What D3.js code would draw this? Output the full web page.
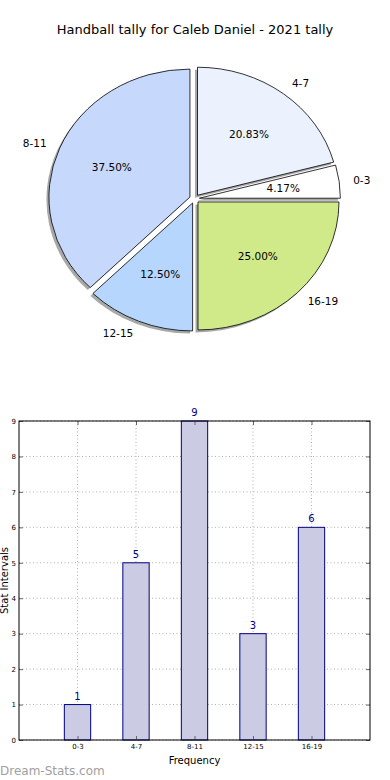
<!DOCTYPE html>
<html><head><meta charset="utf-8">
<script src="https://cdn.jsdelivr.net/npm/d3@7"></script>
<style>body{margin:0;background:#fff;}svg{display:block;font-family:"DejaVu Sans",sans-serif;}</style>
</head><body>
<svg id="c" width="390" height="780"></svg>
<script>
const title = "Handball tally for Caleb Daniel - 2021 tally";
const categories = ["0-3","4-7","8-11","12-15","16-19"];
const values = [1,5,9,3,6];
const pieColors = ["#ffffff","#ebf2fe","#c6d9fd","#b6d6fe","#d0ea8a"];
const yTicks = [0,1,2,3,4,5,6,7,8,9];
const xLabel = "Frequency";
const yLabel = "Stat Intervals";
const watermark = "Dream-Stats.com";

const svg = d3.select("#c");
svg.append("text").attr("x",195).attr("y",34).attr("text-anchor","middle")
  .attr("font-size",13).attr("fill","#000").text(title);

// ---- Pie ----
const cx = 194.5, cy = 198.8, rx = 141, ry = 128, explode = 0.035;
const sy = ry/rx;
const total = d3.sum(values);
const pie = d3.pie().sort(null).startAngle(Math.PI/2).endAngle(Math.PI/2 - 2*Math.PI);
const arcs = pie(values);
const arc = d3.arc().innerRadius(0).outerRadius(rx);
const pg = svg.append("g").attr("transform",`translate(${cx},${cy})`);
function off(d, k){ const m=(d.startAngle+d.endAngle)/2; return [Math.sin(m)*k*rx, -Math.cos(m)*k*ry]; }
// shadows
arcs.forEach(d=>{
  const [ox,oy]=off(d,explode);
  pg.append("path").attr("d",arc(d))
    .attr("transform",`translate(${ox-2.5},${oy+2.5}) scale(1,${sy})`)
    .attr("fill","#6e6e6e").attr("opacity",0.6);
});
arcs.forEach((d,i)=>{
  const [ox,oy]=off(d,explode);
  pg.append("path").attr("d",arc(d))
    .attr("transform",`translate(${ox},${oy}) scale(1,${sy})`)
    .attr("fill",pieColors[i]).attr("stroke","#000").attr("stroke-width",0.8)
    .attr("vector-effect","non-scaling-stroke").attr("stroke-linejoin","miter");
});
arcs.forEach((d,i)=>{
  const [lx,ly]=off(d,1.1+explode);
  pg.append("text").attr("x",lx).attr("y",ly).attr("dy","0.35em")
    .attr("text-anchor", lx>0?"start":"end").attr("font-size",10.5).text(categories[i]);
  const [px,py]=off(d,0.6+explode);
  pg.append("text").attr("x",px).attr("y",py).attr("dy","0.35em")
    .attr("text-anchor","middle").attr("font-size",10.5)
    .text((values[i]/total*100).toFixed(2)+"%");
});

// ---- Bar chart ----
const L=19, R=370, T=421, B=740;
const x = d3.scaleLinear().domain([0,categories.length+1]).range([L,R]);
const y = d3.scaleLinear().domain([0,9]).range([B,T]);
const bg = svg.append("g");
// grid
bg.selectAll(".gy").data(yTicks).join("line")
  .attr("x1",L).attr("x2",R).attr("y1",d=>y(d)).attr("y2",d=>y(d))
  .attr("stroke","#b0b0b0").attr("stroke-width",1).attr("stroke-dasharray","1,2.5");
bg.selectAll(".gx").data(categories).join("line")
  .attr("x1",(d,i)=>x(i+1)).attr("x2",(d,i)=>x(i+1)).attr("y1",T).attr("y2",B)
  .attr("stroke","#b0b0b0").attr("stroke-width",1).attr("stroke-dasharray","1,2.5");
// bars
const bw = x(0.45)-x(0);
bg.selectAll(".bar").data(values).join("rect")
  .attr("x",(d,i)=>x(i+1)-bw/2).attr("width",bw)
  .attr("y",d=>y(d)).attr("height",d=>B-y(d))
  .attr("fill","#cbcbe3").attr("stroke","#000080").attr("stroke-width",1);
bg.selectAll(".vl").data(values).join("text")
  .attr("x",(d,i)=>x(i+1)).attr("y",d=>y(d)-5).attr("text-anchor","middle")
  .attr("font-size",10).attr("fill","#000080").text(d=>d);
// axes with inward ticks
const yAxisL = d3.axisLeft(y).tickValues(yTicks).tickSizeInner(-4).tickSizeOuter(0).tickPadding(3);
const yAx = bg.append("g").attr("transform",`translate(${L},0)`).call(yAxisL);
yAx.select(".domain").remove();
yAx.selectAll("text").attr("font-size",7).attr("font-family","DejaVu Sans").attr("fill","#000");
yAx.selectAll("line").attr("stroke","#666");
const yAxisR = d3.axisRight(y).tickValues(yTicks).tickSizeInner(-4).tickSizeOuter(0).tickFormat("");
const yAr = bg.append("g").attr("transform",`translate(${R},0)`).call(yAxisR);
yAr.select(".domain").remove(); yAr.selectAll("line").attr("stroke","#666");
const xAxisB = d3.axisBottom(x).tickValues(categories.map((c,i)=>i+1))
  .tickFormat((d,i)=>categories[i]).tickSizeInner(-4).tickSizeOuter(0).tickPadding(4);
const xAb = bg.append("g").attr("transform",`translate(0,${B})`).call(xAxisB);
xAb.select(".domain").remove();
xAb.selectAll("text").attr("font-size",7).attr("font-family","DejaVu Sans").attr("fill","#000");
xAb.selectAll("line").attr("stroke","#666");
const xAxisT = d3.axisTop(x).tickValues(categories.map((c,i)=>i+1)).tickSizeInner(-4).tickSizeOuter(0).tickFormat("");
const xAt = bg.append("g").attr("transform",`translate(0,${T})`).call(xAxisT);
xAt.select(".domain").remove(); xAt.selectAll("line").attr("stroke","#666");
// frame
bg.append("rect").attr("x",L).attr("y",T).attr("width",R-L).attr("height",B-T)
  .attr("fill","none").attr("stroke","#000").attr("stroke-width",1);
// labels
svg.append("text").attr("x",(L+R)/2).attr("y",764).attr("text-anchor","middle")
  .attr("font-size",10).text(xLabel);
svg.append("text").attr("transform",`translate(8,${(T+B)/2}) rotate(-90)`)
  .attr("text-anchor","middle").attr("font-size",10).text(yLabel);
svg.append("text").attr("x",0).attr("y",775).attr("font-size",12)
  .attr("fill","#a0a0a0").text(watermark);
</script>
</body></html>
